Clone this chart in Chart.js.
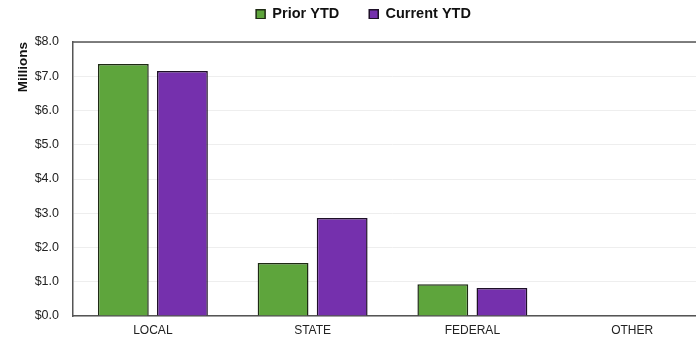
<!DOCTYPE html>
<html>
<head>
<meta charset="utf-8">
<script src="https://cdn.jsdelivr.net/npm/chart.js@4"></script>
<style>
html,body{margin:0;padding:0;background:#fff;overflow:hidden;}
#wrap{width:716px;height:339px;position:relative;}
</style>
</head>
<body>
<div id="wrap"><canvas id="c"></canvas></div>
<script>
const categories = ["LOCAL", "STATE", "FEDERAL", "OTHER"];
const priorYTD = [7.36, 1.55, 0.93, 0];
const currentYTD = [7.15, 2.86, 0.82, 0];
const seriesNames = ["Prior YTD", "Current YTD"];
const yTicks = [0, 1, 2, 3, 4, 5, 6, 7, 8];

const LEGEND_H = 42;
const LEGEND_SHIFT = 23;

const layoutTweaks = {
  id: 'layoutTweaks',
  beforeInit(chart) {
    const lg = chart.legend;
    if (lg) {
      const orig = lg.fit;
      lg.fit = function () { orig.call(this); this.height = LEGEND_H; };
    }
  },
  afterLayout(chart) {
    const lg = chart.legend;
    if (lg) { lg.top -= LEGEND_SHIFT; lg.bottom -= LEGEND_SHIFT; }
  },
  afterDraw(chart) {
    const {ctx, chartArea} = chart;
    ctx.save();
    ctx.strokeStyle = '#555';
    ctx.lineWidth = 1.5;
    ctx.beginPath();
    ctx.moveTo(chartArea.left, chartArea.top);
    ctx.lineTo(chartArea.right, chartArea.top);
    ctx.stroke();
    ctx.restore();
  }
};

new Chart(document.getElementById('c'), {
  type: 'bar',
  data: {
    labels: categories,
    datasets: [
      { label: seriesNames[0], data: priorYTD, backgroundColor: '#5ea53c', borderColor: '#1e2a14', borderWidth: 1.5 },
      { label: seriesNames[1], data: currentYTD, backgroundColor: '#7530ad', borderColor: '#1e1028', borderWidth: 1.5 }
    ]
  },
  options: {
    responsive: true,
    maintainAspectRatio: false,
    animation: false,
    layout: { padding: { top: 0, right: 4, bottom: 0, left: 15 } },
    datasets: { bar: { categoryPercentage: 0.74, barPercentage: 0.86 } },
    plugins: {
      legend: {
        display: true,
        position: 'top',
        labels: {
          boxWidth: 9, boxHeight: 9,
          color: '#111',
          font: { family: 'Liberation Sans, Arial, sans-serif', size: 14.5, weight: 'bold' },
          padding: 30
        }
      },
      tooltip: { enabled: false }
    },
    scales: {
      x: {
        afterFit(scale) { scale.height = 23; },
        grid: { display: false, drawTicks: false },
        border: { color: '#555', width: 1.5 },
        ticks: { color: '#222', font: { family: 'Liberation Sans, Arial, sans-serif', size: 12 }, padding: 7 }
      },
      y: {
        min: 0, max: 8,
        afterBuildTicks(scale) { scale.ticks = yTicks.map(v => ({ value: v })); },
        afterFit(scale) { scale.width = 58; },
        grid: { color: '#eeeeee', drawTicks: false },
        border: { color: '#555', width: 1.5 },
        ticks: {
          color: '#222',
          padding: 14,
          font: { family: 'Liberation Sans, Arial, sans-serif', size: 12.5 },
          callback: v => '$' + Number(v).toFixed(1)
        },
        title: {
          display: true,
          text: 'Millions',
          align: 'end',
          color: '#111',
          font: { family: 'Liberation Sans, Arial, sans-serif', size: 13.5, weight: 'bold' },
          padding: { top: 0, bottom: 0 }
        }
      }
    }
  },
  plugins: [layoutTweaks]
});
</script>
</body>
</html>
